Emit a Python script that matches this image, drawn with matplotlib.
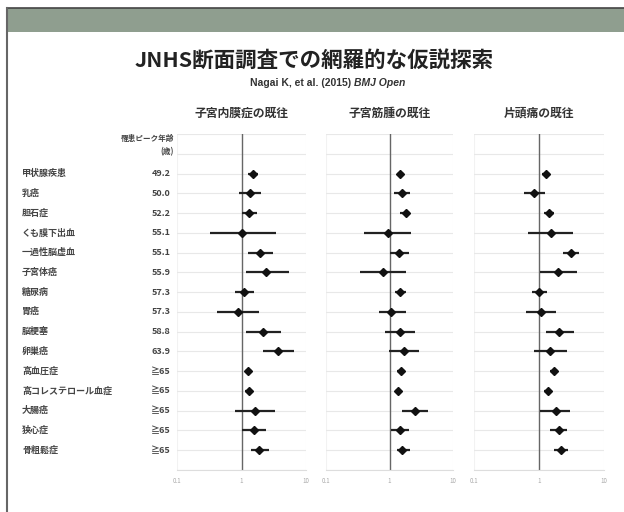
import numpy as np
import matplotlib.pyplot as plt
from matplotlib.patches import Rectangle
from matplotlib.lines import Line2D

plt.rcParams['font.family'] = ['Noto Sans CJK JP', 'DejaVu Sans']

# 疾患と罹患ピーク年齢
diseases = ['甲状腺疾患', '乳癌', '胆石症', 'くも膜下出血', '一過性脳虚血', '子宮体癌',
            '糖尿病', '胃癌', '脳梗塞', '卵巣癌', '高血圧症', '高コレステロール血症',
            '大腸癌', '狭心症', '骨粗鬆症']
peak_age = ['49.2', '50.0', '52.2', '55.1', '55.1', '55.9', '57.3', '57.3', '58.8',
            '63.9', '≧65', '≧65', '≧65', '≧65', '≧65']

panel_titles = ['子宮内膜症の既往', '子宮筋腫の既往', '片頭痛の既往']

# オッズ比と95%信頼区間
or_endo = [1.52, 1.36, 1.32, 1.01, 1.93, 2.44, 1.10, 0.89, 2.17, 3.70, 1.27, 1.32, 1.63, 1.57, 1.90]
lo_endo = [1.28, 0.92, 1.01, 0.32, 1.24, 1.17, 0.80, 0.42, 1.17, 2.19, 1.13, 1.14, 0.80, 1.00, 1.41]
hi_endo = [1.82, 2.04, 1.73, 3.40, 3.10, 5.40, 1.57, 1.88, 4.08, 6.60, 1.48, 1.48, 3.30, 2.44, 2.66]

or_myoma = [1.46, 1.58, 1.79, 0.94, 1.40, 0.79, 1.49, 1.06, 1.44, 1.68, 1.53, 1.37, 2.48, 1.49, 1.58]
lo_myoma = [1.29, 1.17, 1.49, 0.39, 1.01, 0.34, 1.24, 0.68, 0.86, 0.99, 1.33, 1.23, 1.55, 1.06, 1.29]
hi_myoma = [1.68, 2.09, 2.09, 2.20, 2.01, 1.85, 1.85, 1.79, 2.48, 2.90, 1.76, 1.53, 4.00, 2.01, 2.09]

or_migr = [1.28, 0.84, 1.44, 1.51, 3.10, 1.98, 1.00, 1.07, 2.05, 1.48, 1.72, 1.36, 1.80, 2.03, 2.15]
lo_migr = [1.10, 0.59, 1.21, 0.68, 2.37, 1.04, 0.77, 0.63, 1.28, 0.84, 1.50, 1.21, 1.04, 1.48, 1.70]
hi_migr = [1.48, 1.24, 1.70, 3.30, 4.17, 3.90, 1.34, 1.83, 3.45, 2.72, 1.98, 1.51, 3.00, 2.72, 2.82]

W, H = 624, 512
fig = plt.figure(figsize=(W / 100, H / 100), dpi=100)
fig.patch.set_facecolor('white')

def fx(px):
    return px / W

def fy(py):
    return 1 - py / H

# 枠とヘッダー帯
fig.patches.append(Rectangle((fx(7), fy(32)), 1, fy(8) - fy(32), transform=fig.transFigure,
                             facecolor='#8f9e8f', edgecolor='none', zorder=0))
fig.lines.append(Line2D([fx(7), 1], [fy(8), fy(8)], transform=fig.transFigure, color='#444', lw=1.2))
fig.lines.append(Line2D([fx(7), fx(7)], [0, fy(8)], transform=fig.transFigure, color='#666', lw=1.5))

fig.text(fx(314), fy(60), 'JNHS断面調査での網羅的な仮説探索', ha='center', va='center',
         fontsize=15.5, fontweight='bold', color='#222')
fig.text(fx(354), fy(83), 'Nagai K, et al. (2015) ', ha='right', va='center',
         fontsize=7.5, fontweight='bold', color='#333', family='Liberation Sans')
fig.text(fx(354), fy(83), 'BMJ Open', ha='left', va='center',
         fontsize=7.5, fontweight='bold', style='italic', color='#333', family='Liberation Sans')

top_px, bot_px = 134, 470
rows = np.arange(len(diseases)) + 1

# 左側のラベル列
lab = fig.add_axes([0, fy(bot_px), fx(177), fy(top_px) - fy(bot_px)])
lab.set_xlim(0, 177)
lab.set_ylim(16, -1)
lab.axis('off')
for y, name, age in zip(rows, diseases, peak_age):
    lab.text(22, y, name, ha='left', va='center', fontsize=6.5, fontweight='bold', color='#444')
    lab.text(171, y, age, ha='right', va='center', fontsize=6.5, fontweight='bold', color='#444')
lab.text(174, -0.75, '罹患ピーク年齢', ha='right', va='center', fontsize=5.5, fontweight='bold', color='#444')
lab.text(174, -0.1, '(歳)', ha='right', va='center', fontsize=5.5, fontweight='bold', color='#444')

panels = [(177, 306, or_endo, lo_endo, hi_endo),
          (326, 453, or_myoma, lo_myoma, hi_myoma),
          (474, 604, or_migr, lo_migr, hi_migr)]

for (x0, x1, est, lo, hi), title in zip(panels, panel_titles):
    ax = fig.add_axes([fx(x0), fy(bot_px), fx(x1) - fx(x0), fy(top_px) - fy(bot_px)])
    ax.set_xscale('log')
    ax.set_xlim(0.1, 10)
    ax.set_ylim(16, -1)
    ax.set_yticks(np.arange(-1, 17))
    ax.set_yticklabels([])
    ax.tick_params(axis='y', length=0)
    ax.grid(axis='y', color='#e8e8e8', lw=0.8)
    ax.grid(axis='x', color='#f2f2f2', lw=0.8)
    ax.set_xticks([0.1, 1, 10])
    ax.set_xticklabels(['0.1', '1', '10'])
    ax.minorticks_off()
    ax.tick_params(axis='x', length=0, labelsize=4.5, labelcolor='#aaa', pad=5)
    for s in ['top', 'left', 'right']:
        ax.spines[s].set_visible(False)
    ax.spines['bottom'].set_color('#dddddd')
    ax.axvline(1, color='#666', lw=1.0, zorder=2)
    ax.hlines(rows, lo, hi, color='#222', lw=1.6, zorder=3)
    ax.plot(est, rows, 'D', color='#111', ms=4.5, zorder=4)
    ax.set_axisbelow(True)
    fig.text(fx((x0 + x1) / 2), fy(113), title, ha='center', va='center',
             fontsize=8.5, fontweight='bold', color='#333')

fig.savefig('out.png', dpi=100)
